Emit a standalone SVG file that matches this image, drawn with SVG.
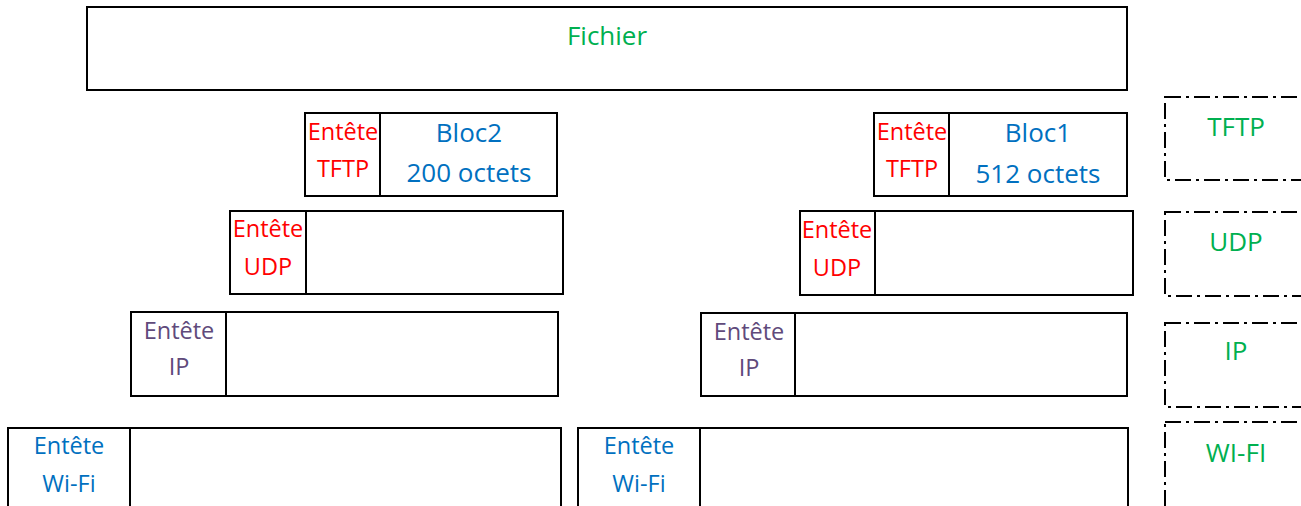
<svg xmlns="http://www.w3.org/2000/svg" width="1301" height="506" viewBox="0 0 1301 506">
<style>
.b{fill:#fff;stroke:#000;stroke-width:2}
.l{fill:none;stroke:#000;stroke-width:2}
.dd{fill:none;stroke:#000;stroke-width:2;stroke-dasharray:16 5 3 5}
text{font-family:"Open Sans","Noto Sans","Liberation Sans",sans-serif;text-anchor:middle}
.h{font-size:23.5px}
.t{font-size:26px}
.g{fill:#00B050}
.r{fill:#FF0000}
.bl{fill:#0070C0}
.p{fill:#604A7B}
</style>
<rect width="1301" height="506" fill="#fff"/>
<g id="fichier">
<rect class="b" x="87" y="7" width="1040" height="83"/>
<text class="t g" x="607" y="45">Fichier</text>
</g>
<g id="tftp-bloc2">
<rect class="b" x="305" y="113" width="252" height="83"/>
<line class="l" x1="380" y1="113" x2="380" y2="196"/>
<text class="h r" x="343" y="140">Entête</text>
<text class="h r" x="343" y="177">TFTP</text>
<text class="t bl" x="469" y="142">Bloc2</text>
<text class="t bl" x="469" y="182">200 octets</text>
</g>
<g id="tftp-bloc1">
<rect class="b" x="874" y="113" width="253" height="83"/>
<line class="l" x1="949" y1="113" x2="949" y2="196"/>
<text class="h r" x="912" y="140">Entête</text>
<text class="h r" x="912" y="177">TFTP</text>
<text class="t bl" x="1038" y="142">Bloc1</text>
<text class="t bl" x="1038" y="183">512 octets</text>
</g>
<g id="udp-left">
<rect class="b" x="230" y="211" width="333" height="83"/>
<line class="l" x1="306" y1="211" x2="306" y2="294"/>
<text class="h r" x="268" y="237">Entête</text>
<text class="h r" x="268" y="275">UDP</text>
</g>
<g id="udp-right">
<rect class="b" x="800" y="211" width="333" height="84"/>
<line class="l" x1="875" y1="211" x2="875" y2="295"/>
<text class="h r" x="837" y="238">Entête</text>
<text class="h r" x="837" y="276">UDP</text>
</g>
<g id="ip-left">
<rect class="b" x="131" y="312" width="427" height="84"/>
<line class="l" x1="226" y1="312" x2="226" y2="396"/>
<text class="h p" x="179" y="339">Entête</text>
<text class="h p" x="179" y="375">IP</text>
</g>
<g id="ip-right">
<rect class="b" x="701" y="313" width="426" height="83"/>
<line class="l" x1="795" y1="313" x2="795" y2="396"/>
<text class="h p" x="749" y="340">Entête</text>
<text class="h p" x="749" y="376">IP</text>
</g>
<g id="wifi-left">
<rect class="b" x="8" y="428" width="553" height="90"/>
<line class="l" x1="130" y1="428" x2="130" y2="518"/>
<text class="h bl" x="69" y="454">Entête</text>
<text class="h bl" x="69" y="492">Wi-Fi</text>
</g>
<g id="wifi-right">
<rect class="b" x="578" y="428" width="550" height="90"/>
<line class="l" x1="700" y1="428" x2="700" y2="518"/>
<text class="h bl" x="639" y="454">Entête</text>
<text class="h bl" x="639" y="492">Wi-Fi</text>
</g>
<g id="layer-tftp">
<rect class="dd" x="1165" y="97" width="160" height="83"/>
<text class="t g" x="1236" y="136">TFTP</text>
</g>
<g id="layer-udp">
<rect class="dd" x="1165" y="212" width="160" height="84"/>
<text class="t g" x="1236" y="251">UDP</text>
</g>
<g id="layer-ip">
<rect class="dd" x="1165" y="323" width="160" height="84"/>
<text class="t g" x="1236" y="360">IP</text>
</g>
<g id="layer-wifi">
<rect class="dd" x="1165" y="422" width="160" height="85"/>
<text class="t g" x="1236" y="462">WI-FI</text>
</g>
</svg>
